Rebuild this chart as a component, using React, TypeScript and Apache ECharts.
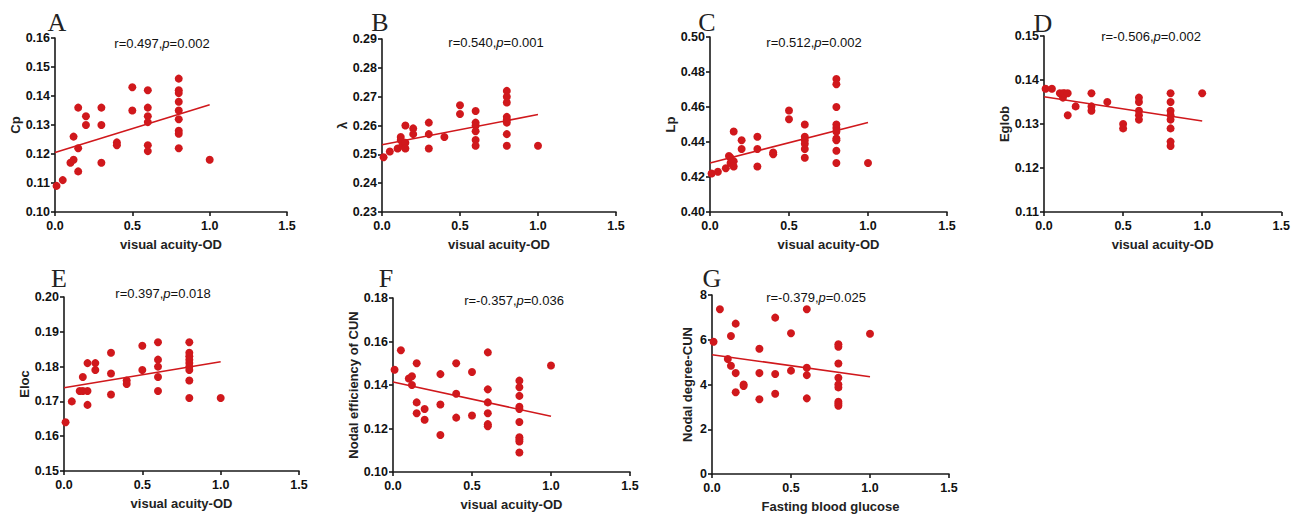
import React, { useEffect, useRef } from "react";
import * as echarts from "echarts";

// ---- data (x = visual acuity-OD / fasting blood glucose, y = metric) ----
const cpData = [[0.01,0.109],[0.05,0.111],[0.10,0.117],[0.12,0.118],[0.12,0.126],[0.15,0.122],[0.15,0.114],[0.15,0.136],[0.2,0.133],[0.2,0.130],[0.3,0.136],[0.3,0.130],[0.3,0.117],[0.4,0.124],[0.4,0.123],[0.5,0.143],[0.5,0.135],[0.6,0.142],[0.6,0.136],[0.6,0.133],[0.6,0.131],[0.6,0.123],[0.6,0.121],[0.8,0.146],[0.8,0.142],[0.8,0.141],[0.8,0.138],[0.8,0.135],[0.8,0.132],[0.8,0.128],[0.8,0.127],[0.8,0.122],[1.0,0.118]];
const lambdaData = [[0.01,0.249],[0.05,0.251],[0.10,0.252],[0.12,0.256],[0.12,0.255],[0.13,0.253],[0.15,0.260],[0.15,0.254],[0.15,0.252],[0.2,0.259],[0.2,0.257],[0.3,0.261],[0.3,0.257],[0.3,0.252],[0.4,0.256],[0.5,0.267],[0.5,0.264],[0.6,0.265],[0.6,0.261],[0.6,0.260],[0.6,0.258],[0.6,0.255],[0.6,0.253],[0.8,0.272],[0.8,0.270],[0.8,0.268],[0.8,0.263],[0.8,0.262],[0.8,0.261],[0.8,0.257],[0.8,0.253],[1.0,0.253]];
const lpData = [[0.01,0.422],[0.05,0.423],[0.10,0.425],[0.12,0.432],[0.13,0.431],[0.13,0.428],[0.15,0.446],[0.15,0.429],[0.15,0.426],[0.2,0.441],[0.2,0.436],[0.3,0.443],[0.3,0.436],[0.3,0.426],[0.4,0.434],[0.4,0.433],[0.5,0.458],[0.5,0.453],[0.6,0.450],[0.6,0.443],[0.6,0.441],[0.6,0.439],[0.6,0.436],[0.6,0.431],[0.8,0.476],[0.8,0.473],[0.8,0.460],[0.8,0.450],[0.8,0.448],[0.8,0.446],[0.8,0.442],[0.8,0.441],[0.8,0.435],[0.8,0.428],[1.0,0.428]];
const eglobData = [[0.01,0.138],[0.05,0.138],[0.10,0.137],[0.12,0.136],[0.12,0.137],[0.13,0.137],[0.15,0.137],[0.15,0.132],[0.2,0.134],[0.3,0.137],[0.3,0.134],[0.3,0.133],[0.4,0.135],[0.5,0.130],[0.5,0.129],[0.6,0.136],[0.6,0.135],[0.6,0.133],[0.6,0.132],[0.6,0.131],[0.8,0.137],[0.8,0.135],[0.8,0.133],[0.8,0.132],[0.8,0.131],[0.8,0.129],[0.8,0.126],[0.8,0.125],[1.0,0.137]];
const elocData = [[0.01,0.164],[0.05,0.170],[0.10,0.173],[0.12,0.173],[0.12,0.177],[0.15,0.181],[0.15,0.173],[0.15,0.169],[0.2,0.181],[0.2,0.179],[0.3,0.184],[0.3,0.178],[0.3,0.172],[0.4,0.176],[0.4,0.175],[0.5,0.186],[0.5,0.179],[0.6,0.187],[0.6,0.182],[0.6,0.180],[0.6,0.177],[0.6,0.173],[0.8,0.187],[0.8,0.184],[0.8,0.183],[0.8,0.182],[0.8,0.181],[0.8,0.180],[0.8,0.179],[0.8,0.176],[0.8,0.171],[1.0,0.171]];
const nodalEffData = [[0.01,0.147],[0.05,0.156],[0.10,0.143],[0.12,0.144],[0.12,0.140],[0.15,0.150],[0.15,0.132],[0.15,0.127],[0.2,0.129],[0.2,0.124],[0.3,0.145],[0.3,0.131],[0.3,0.117],[0.4,0.150],[0.4,0.136],[0.4,0.125],[0.5,0.146],[0.5,0.126],[0.6,0.155],[0.6,0.138],[0.6,0.132],[0.6,0.127],[0.6,0.122],[0.6,0.121],[0.8,0.142],[0.8,0.139],[0.8,0.135],[0.8,0.130],[0.8,0.129],[0.8,0.123],[0.8,0.116],[0.8,0.115],[0.8,0.114],[0.8,0.109],[1.0,0.149]];
const nodalDegData = [[0.01,5.91],[0.05,7.36],[0.10,5.14],[0.12,6.17],[0.12,4.84],[0.15,6.72],[0.15,4.51],[0.15,3.65],[0.2,4.0],[0.2,3.93],[0.3,5.60],[0.3,4.51],[0.3,3.34],[0.4,6.99],[0.4,4.47],[0.4,3.59],[0.5,6.29],[0.5,4.62],[0.6,7.36],[0.6,4.75],[0.6,4.42],[0.6,3.38],[0.8,5.80],[0.8,5.69],[0.8,4.94],[0.8,4.30],[0.8,4.0],[0.8,3.87],[0.8,3.23],[0.8,3.14],[0.8,3.05],[1.0,6.27]];

// regression line end points
const cpFit = [[0,0.1205],[1,0.137]];
const lambdaFit = [[0,0.2533],[1,0.2638]];
const lpFit = [[0,0.428],[1,0.4512]];
const eglobFit = [[0,0.1362],[1,0.1307]];
const elocFit = [[0,0.1739],[1,0.1814]];
const nodalEffFit = [[0,0.1414],[1,0.1256]];
const nodalDegFit = [[0,5.33],[1,4.35]];

const panelLetters = ["A","B","C","D","E","F","G"];
const yNames = ["Cp","λ","Lp","Eglob","Eloc","Nodal efficiency of CUN","Nodal degree-CUN"];
const xNames = ["visual acuity-OD","visual acuity-OD","visual acuity-OD","visual acuity-OD","visual acuity-OD","visual acuity-OD","Fasting blood glucose"];
const rValues = ["0.497","0.540","0.512","-0.506","0.397","-0.357","-0.379"];
const pValues = ["0.002","0.001","0.002","0.002","0.018","0.036","0.025"];
const yMins = [0.10,0.23,0.40,0.11,0.15,0.10,0];
const yMaxs = [0.16,0.29,0.50,0.15,0.20,0.18,8];
const yIntervals = [0.01,0.01,0.02,0.01,0.01,0.02,2];
const xTicks = [0, 0.5, 1.0, 1.5];

const scatterSets = [cpData, lambdaData, lpData, eglobData, elocData, nodalEffData, nodalDegData];
const fitSets = [cpFit, lambdaFit, lpFit, eglobFit, elocFit, nodalEffFit, nodalDegFit];

// ---- layout ----
const grids = [
  { left: 55, top: 38, width: 232, height: 174 },
  { left: 382, top: 39, width: 234, height: 173 },
  { left: 710, top: 37, width: 237, height: 175 },
  { left: 1044, top: 36, width: 238, height: 176 },
  { left: 64, top: 297, width: 235, height: 174 },
  { left: 393, top: 298, width: 237, height: 174 },
  { left: 712, top: 295, width: 237, height: 179 },
];
const yNameGaps = [33, 33, 31, 32, 32, 30, 18];
const letterPos = [[57,22],[380,22],[707,22],[1043,23],[59,278],[386,278],[712,278]];
const notePos = [[162,43],[496,42],[814,42],[1151,36],[163,293],[514,300],[816,297]];

const RED = "#d0181c";
const AXIS = "#1a1a1a";
const FONT = "'Liberation Sans', Arial, sans-serif";

export default function App() {
  const ref = useRef<HTMLDivElement>(null);
  useEffect(() => {
    document.body.style.margin = "0";
    const chart = echarts.init(ref.current!, undefined, { renderer: "svg" });
    const axisCommon = {
      axisLine: { show: true, onZero: false, lineStyle: { color: AXIS, width: 1.6 } },
      axisTick: { show: true, inside: false, length: 4, lineStyle: { color: AXIS, width: 1.6 } },
      splitLine: { show: false },
    };
    const xAxis = grids.map((_, i) => ({
      type: "value",
      gridIndex: i,
      min: 0,
      max: 1.5,
      interval: 0.5,
      name: xNames[i],
      nameLocation: "middle",
      nameGap: 26,
      nameTextStyle: { fontFamily: FONT, fontWeight: "bold", fontSize: 13, color: "#222" },
      axisLabel: {
        margin: 7,
        fontFamily: FONT, fontWeight: "bold", fontSize: 12.5, color: "#111",
        formatter: (v: number) => (xTicks.some((t) => Math.abs(t - v) < 1e-9) ? v.toFixed(1) : ""),
      },
      ...axisCommon,
    }));
    const yAxis = grids.map((_, i) => ({
      type: "value",
      gridIndex: i,
      min: yMins[i],
      max: yMaxs[i],
      interval: yIntervals[i],
      name: yNames[i],
      nameLocation: "middle",
      nameGap: yNameGaps[i],
      nameRotate: 90,
      nameTextStyle: { fontFamily: FONT, fontWeight: "bold", fontSize: 13, color: "#222" },
      axisLabel: {
        margin: 5,
        fontFamily: FONT, fontWeight: "bold", fontSize: 12.5, color: "#111",
        formatter: (v: number) => (i === 6 ? String(Math.round(v)) : v.toFixed(2)),
      },
      ...axisCommon,
    }));
    const series: any[] = [];
    scatterSets.forEach((d, i) => {
      series.push({
        type: "scatter",
        xAxisIndex: i,
        yAxisIndex: i,
        data: d,
        symbolSize: 8,
        itemStyle: { color: RED, opacity: 1 },
        z: 3,
      });
      series.push({
        type: "line",
        xAxisIndex: i,
        yAxisIndex: i,
        data: fitSets[i],
        showSymbol: false,
        symbol: "none",
        lineStyle: { color: RED, width: 1.6 },
        z: 2,
      });
    });
    const graphic: any[] = [];
    panelLetters.forEach((l, i) => {
      graphic.push({
        type: "text",
        x: letterPos[i][0],
        y: letterPos[i][1],
        style: {
          text: l,
          fontFamily: "'Liberation Serif', 'Times New Roman', serif",
          fontSize: 26,
          fill: "#222",
          align: "center",
          verticalAlign: "middle",
        },
        z: 10,
      });
      graphic.push({
        type: "text",
        x: notePos[i][0],
        y: notePos[i][1],
        style: {
          text: `{n|r=${rValues[i]},}{i|p}{n|=${pValues[i]}}`,
          align: "center",
          verticalAlign: "middle",
          rich: {
            n: { fontFamily: FONT, fontSize: 13, fill: "#111", color: "#111" },
            i: { fontFamily: FONT, fontSize: 13, fontStyle: "italic", fill: "#111", color: "#111" },
          },
        },
        z: 10,
      });
    });
    chart.setOption({
      animation: false,
      backgroundColor: "#ffffff",
      grid: grids.map((g) => ({ ...g, containLabel: false })),
      xAxis,
      yAxis,
      series,
      graphic,
    });
    return () => chart.dispose();
  }, []);
  return <div ref={ref} style={{ width: 1293, height: 514 }} />;
}
